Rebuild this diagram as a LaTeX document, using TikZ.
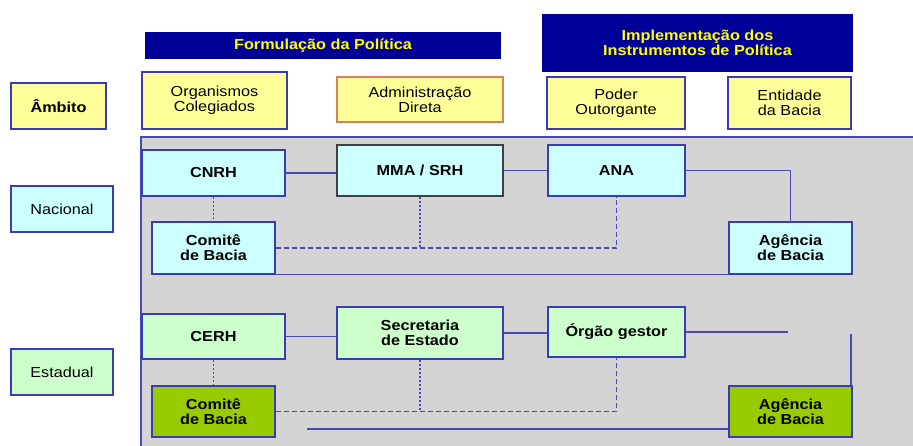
\documentclass[tikz,border=0pt]{standalone}
\usepackage{fontspec}
\setmainfont{Liberation Sans}[FakeStretch=1.12]
\usepackage{tikz}
\usetikzlibrary{positioning,calc}

\definecolor{hdrblue}{HTML}{000099}
\definecolor{hdryellow}{HTML}{FFFF00}
\definecolor{lblyellow}{HTML}{FFFF99}
\definecolor{naccyan}{HTML}{CCFFFF}
\definecolor{estgreen}{HTML}{CCFFCC}
\definecolor{baciagreen}{HTML}{99CC00}
\definecolor{panelgrey}{HTML}{D4D4D4}
\definecolor{edgeblue}{HTML}{3B3BB8}
\definecolor{lineblue}{HTML}{4A4AB4}
\definecolor{edgeorange}{HTML}{D88060}

\begin{document}
\begin{tikzpicture}[x=1pt,y=-1pt,
    every node/.style={font=\fontsize{14.5}{15}\selectfont,align=center,inner sep=0pt},
    hdr/.style={fill=hdrblue,text=hdryellow,font=\fontsize{14.5}{15}\selectfont\bfseries},
    box/.style={draw=edgeblue,line width=1.3pt},
    lbl/.style={box,fill=lblyellow},
    nacbox/.style={box,fill=naccyan},
    estbox/.style={box,fill=estgreen},
    baciabox/.style={box,fill=baciagreen},
    strong/.style={font=\fontsize{14.5}{15}\selectfont\bfseries},
    link/.style={draw=lineblue,line width=1.5pt},
    dotlink/.style={draw=lineblue,line width=1.6pt,dash pattern=on 2pt off 2pt},
    dashlink/.style={draw=lineblue,line width=1.3pt,dash pattern=on 5pt off 3pt}]
  \useasboundingbox (0,0) rectangle (913,446);

  % grey panel
  \fill[panelgrey] (141,137) rectangle (913,446);
  \draw[link] (913,137) -- (141,137) -- (141,446);

  % headers
  \node[hdr,minimum width=356pt,minimum height=27pt] (formhdr) at (323,45.5) {Formulação da Política};
  \node[hdr,minimum width=311pt,minimum height=58pt] (implhdr) at (697.5,43) {Implementação dos\\Instrumentos de Política};

  % top labels
  \node[lbl,strong,minimum width=95pt,minimum height=46pt] (ambito) at (58.5,106) {Âmbito};
  \node[lbl,minimum width=145pt,minimum height=57pt] (orgcol) at (214.5,100.5) {Organismos\\Colegiados};
  \node[lbl,draw=edgeorange,minimum width=166pt,minimum height=45pt] (admdir) at (420,99.5) {Administração\\Direta};
  \node[lbl,minimum width=138pt,minimum height=52pt] (poder) at (616,103) {Poder\\Outorgante};
  \node[lbl,minimum width=123pt,minimum height=52pt] (entidade) at (789.5,103) {Entidade\\da Bacia};

  % row labels
  \node[nacbox,minimum width=102pt,minimum height=46pt] (nacional) at (62,209) {Nacional};
  \node[estbox,minimum width=102pt,minimum height=46pt] (estadual) at (62,372) {Estadual};

  % nacional
  \node[nacbox,strong,minimum width=143pt,minimum height=46pt] (cnrh) at (213.5,173) {CNRH};
  \node[nacbox,strong,draw=black!75,minimum width=166pt,minimum height=51pt] (mma) at (420,170.5) {MMA / SRH};
  \node[nacbox,strong,minimum width=137pt,minimum height=51pt] (ana) at (616.5,170.5) {ANA};
  \node[nacbox,strong,minimum width=123pt,minimum height=52pt] (comiten) at (213.5,248) {Comitê\\de Bacia};
  \node[nacbox,strong,minimum width=123pt,minimum height=52pt] (agencian) at (790.5,248) {Agência\\de Bacia};

  \draw[link] (cnrh.east) -- (cnrh.east -| mma.west);
  \draw[link] (mma.east) -- (mma.east -| ana.west);
  \draw[link] (ana.east) -| (agencian.north);
  \draw[dotlink] (cnrh.south) -- (comiten.north);
  \draw[dotlink] (mma.south) -- (mma.south |- comiten.east);
  \draw[dashlink] (comiten.east) -| (ana.south);
  \draw[link] (comiten.south east) -- (agencian.south west);

  % estadual
  \node[estbox,strong,minimum width=143pt,minimum height=45pt] (cerh) at (213.5,336.5) {CERH};
  \node[estbox,strong,minimum width=166pt,minimum height=52pt] (secest) at (420,333) {Secretaria\\de Estado};
  \node[estbox,strong,minimum width=137pt,minimum height=50pt] (orgao) at (616.5,332) {Órgão gestor};
  \node[baciabox,strong,minimum width=123pt,minimum height=51pt] (comitee) at (213.5,411.5) {Comitê\\de Bacia};
  \node[baciabox,strong,minimum width=123pt,minimum height=51pt] (agenciae) at (790.5,411.5) {Agência\\de Bacia};

  \coordinate (oend) at (788,332);
  \coordinate (vtop) at (851,334);
  \coordinate (bstart) at (307,429);

  \draw[link] (cerh.east) -- (cerh.east -| secest.west);
  \draw[link] (secest.east) -- (secest.east -| orgao.west);
  \draw[link] (orgao.east) -- (oend);
  \draw[link] (vtop) -- (vtop |- agenciae.north);
  \draw[dotlink] (cerh.south) -- (comitee.north);
  \draw[dotlink] (secest.south) -- (secest.south |- comitee.east);
  \draw[dashlink] (comitee.east) -| (orgao.south);
  \draw[link] (bstart) -- (bstart -| agenciae.west);
\end{tikzpicture}
\end{document}
